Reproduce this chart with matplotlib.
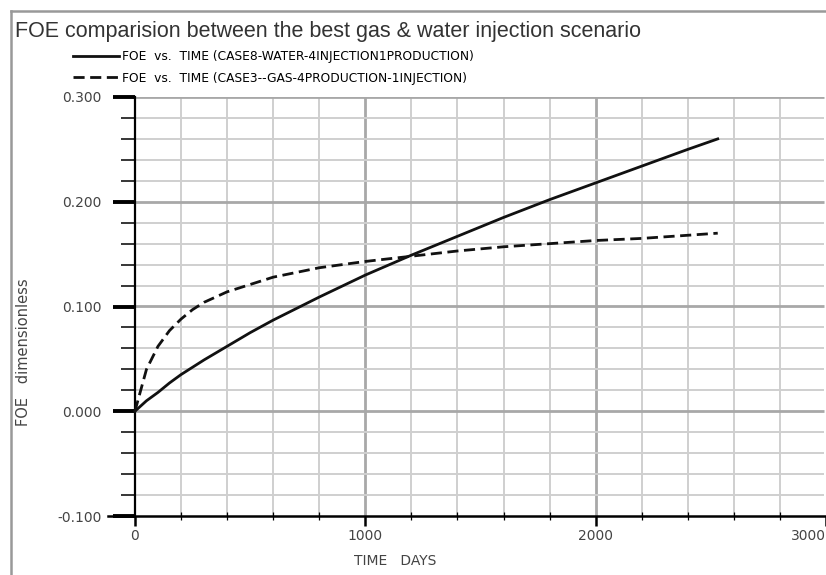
import matplotlib
matplotlib.use('Agg')
import numpy as np
import matplotlib.pyplot as plt
from matplotlib.lines import Line2D

# data
time_days = [0, 25, 50, 100, 150, 200, 250, 300, 400, 500, 600, 800, 1000, 1200,
             1400, 1600, 1800, 2000, 2200, 2400, 2530]
foe_water = [0.0, 0.005, 0.010, 0.018, 0.027, 0.035, 0.042, 0.049, 0.062, 0.075, 0.087, 0.109,
             0.130, 0.149, 0.167, 0.185, 0.202, 0.218, 0.234, 0.250, 0.260]
foe_gas = [0.0, 0.020, 0.040, 0.062, 0.077, 0.088, 0.097, 0.104, 0.114, 0.121, 0.128, 0.137,
           0.143, 0.148, 0.153, 0.157, 0.160, 0.163, 0.165, 0.168, 0.170]

label_water = 'FOE  vs.  TIME (CASE8-WATER-4INJECTION1PRODUCTION)'
label_gas = 'FOE  vs.  TIME (CASE3--GAS-4PRODUCTION-1INJECTION)'
title = 'FOE comparision between the best gas & water injection scenario'

x_major = [0, 1000, 2000, 3000]
x_labels = ['0', '1000', '2000', '3000']
y_major = [-0.1, 0.0, 0.1, 0.2, 0.3]
y_labels = ['-0.100', '0.000', '0.100', '0.200', '0.300']

narrow = ['Liberation Sans Narrow', 'DejaVu Sans']
txt = '#444444'

fig = plt.figure(figsize=(8.26, 5.75), dpi=100)
ax = fig.add_axes([108 / 826, 59 / 575, 718 / 826, 419 / 575])
ax.set_xlim(-117, 2990)
ax.set_ylim(-0.1, 0.3)

# grid (only to the right of the y axis)
xs = np.arange(200, 3000, 200)
ys = np.arange(-0.08, 0.301, 0.02)
for x in xs:
    major = x % 1000 == 0
    ax.vlines(x, -0.1, 0.3, color='#a8a8a8' if major else '#cfcfcf', lw=2.0 if major else 1.4, zorder=1)
for y in ys:
    major = abs(y * 10 - round(y * 10)) < 1e-6
    ax.hlines(y, 0, 2990, color='#a8a8a8' if major else '#cfcfcf', lw=2.0 if major else 1.4, zorder=1)

ax.plot(time_days, foe_water, color='#111111', lw=2.0, label=label_water, zorder=3)
ax.plot(time_days, foe_gas, color='#111111', lw=2.0, ls=(0, (4, 2)), label=label_gas, zorder=3)

for s in ['top', 'right']:
    ax.spines[s].set_visible(False)
ax.spines['left'].set_position(('data', 0))
ax.spines['left'].set_linewidth(1.6)
ax.spines['bottom'].set_linewidth(1.8)

ax.set_yticks(y_major)
ax.set_yticklabels(y_labels, family=narrow, fontsize=10, color=txt)
ax.set_yticks(np.arange(-0.08, 0.3, 0.02), minor=True)
ax.tick_params(axis='y', which='major', length=16, width=2.8, pad=8)
ax.tick_params(axis='y', which='minor', length=10, width=1.1)

ax.set_xticks(x_major)
ax.set_xticklabels(x_labels, family=narrow, fontsize=10, color=txt)
ax.set_xticks(np.arange(200, 3000, 200), minor=True)
ax.tick_params(axis='x', which='major', length=7, width=1.8, pad=2)
ax.tick_params(axis='x', which='minor', direction='inout', length=6, width=0.9)
ax.get_xticklabels()[-1].set_horizontalalignment('right')

ax.set_xlabel('TIME   DAYS', family=narrow, fontsize=10, color=txt)
ax.xaxis.set_label_coords(287 / 718, -0.09)
ax.set_ylabel('FOE   dimensionless', family=narrow, fontsize=10.5, color=txt)
ax.yaxis.set_label_coords(-0.107, 0.39)

fig.text(15 / 826, 1 - 32 / 575, title, ha='left', va='center', fontsize=15.5,
         family=['Liberation Sans', 'DejaVu Sans'], color='#333333')

ax.legend(loc='upper left', bbox_to_anchor=(73 / 826, 1 - 50 / 575), bbox_transform=fig.transFigure,
          frameon=False, prop={'family': narrow, 'size': 8.8}, handlelength=3.8, handletextpad=0.2,
          labelspacing=0.7, borderpad=0, borderaxespad=0)

# outer frame of the original screenshot
fig.add_artist(Line2D([11 / 826, 1], [1 - 11 / 575, 1 - 11 / 575], color='#999999', lw=1.8))
fig.add_artist(Line2D([11 / 826, 11 / 826], [0, 1 - 11 / 575], color='#999999', lw=1.8))

fig.savefig('out.png', dpi=100)
